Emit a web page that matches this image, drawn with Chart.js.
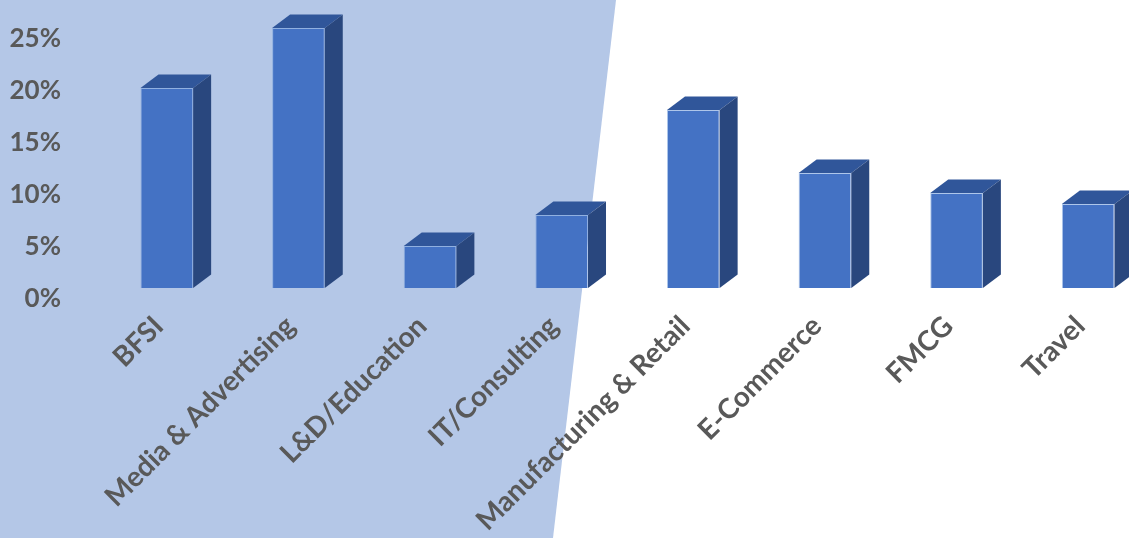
<!DOCTYPE html>
<html>
<head>
<meta charset="utf-8">
<script src="https://cdn.jsdelivr.net/npm/chart.js@4.4.1/dist/chart.umd.min.js"></script>
<style>
  html, body { margin: 0; padding: 0; background: #fff; overflow: hidden; width: 1129px; height: 538px; }
  #bg { position: absolute; left: 0; top: 0; width: 1129px; height: 538px; background: #B4C7E7;
        clip-path: polygon(0 0, 616px 0, 553px 538px, 0 538px); }
  #wrap { position: absolute; left: 0; top: 0; }
</style>
</head>
<body>
<div id="bg"></div>
<div id="wrap"><canvas id="sectorChart" width="1180" height="538"></canvas></div>
<script>
// data
const sectors = ["BFSI", "Media & Advertising", "L&D/Education", "IT/Consulting",
                 "Manufacturing & Retail", "E-Commerce", "FMCG", "Travel"];
const shares = [20, 26, 4.2, 7.3, 17.8, 11.5, 9.5, 8.4];   // percent
const tickStep = 5;   // 0% .. 25%

const frontColor = '#4472C4';
const topColor = '#30569A';
const sideColor = '#29477E';

// draws the top and right faces so the bars look like 3D columns
const depthFaces = {
    id: 'depthFaces',
    afterDatasetsDraw(chart) {
        const ctx = chart.ctx;
        const dx = 18, dy = 13.5;
        chart.getDatasetMeta(0).data.forEach(bar => {
            const p = bar.getProps(['x', 'y', 'base', 'width'], true);
            const l = p.x - p.width / 2, r = p.x + p.width / 2;
            ctx.save();
            // top face
            ctx.fillStyle = topColor;
            ctx.beginPath();
            ctx.moveTo(l, p.y);
            ctx.lineTo(l + dx, p.y - dy);
            ctx.lineTo(r + dx, p.y - dy);
            ctx.lineTo(r, p.y);
            ctx.closePath();
            ctx.fill();
            // right face
            ctx.fillStyle = sideColor;
            ctx.beginPath();
            ctx.moveTo(r, p.y);
            ctx.lineTo(r + dx, p.y - dy);
            ctx.lineTo(r + dx, p.base - dy);
            ctx.lineTo(r, p.base);
            ctx.closePath();
            ctx.fill();
            ctx.restore();
        });
    }
};

new Chart('sectorChart', {
    type: 'bar',
    data: {
        labels: sectors,
        datasets: [{
            data: shares,
            backgroundColor: frontColor,
            borderColor: 'rgba(120,160,220,0.6)',
            borderWidth: 1,
            barPercentage: 0.4,
            categoryPercentage: 1,
            yAxisID: 'y'
        }]
    },
    options: {
        responsive: false,
        animation: false,
        layout: { padding: { top: 10, right: 26, left: 0, bottom: 0 } },
        plugins: { legend: { display: false }, tooltip: { enabled: false } },
        scales: {
            x: {
                grid: { display: false, drawTicks: false },
                border: { display: false },
                ticks: {
                    color: '#595959',
                    font: { family: 'Lato', size: 28, weight: 'bold' },
                    minRotation: 45,
                    maxRotation: 45,
                    autoSkip: false,
                    padding: 11,
                    labelOffset: -8
                },
                afterFit(scale) { scale.height = 239.5; }
            },
            y: {
                display: false,
                min: -1.05,
                max: 27.8
            },
            yLabels: {
                position: 'left',
                min: 0,
                max: 27.74,
                grid: { display: false, drawTicks: true, tickLength: 40 },
                border: { display: false },
                ticks: {
                    stepSize: tickStep,
                    includeBounds: false,
                    color: '#595959',
                    font: { family: 'Lato', size: 26, weight: 'bold', lineHeight: 0.6 },
                    padding: 0,
                    callback: v => (v % tickStep === 0 ? v + '%' : '')
                },
                afterFit(scale) { scale.width = 101; }
            }
        }
    },
    plugins: [depthFaces]
});
</script>
</body>
</html>
